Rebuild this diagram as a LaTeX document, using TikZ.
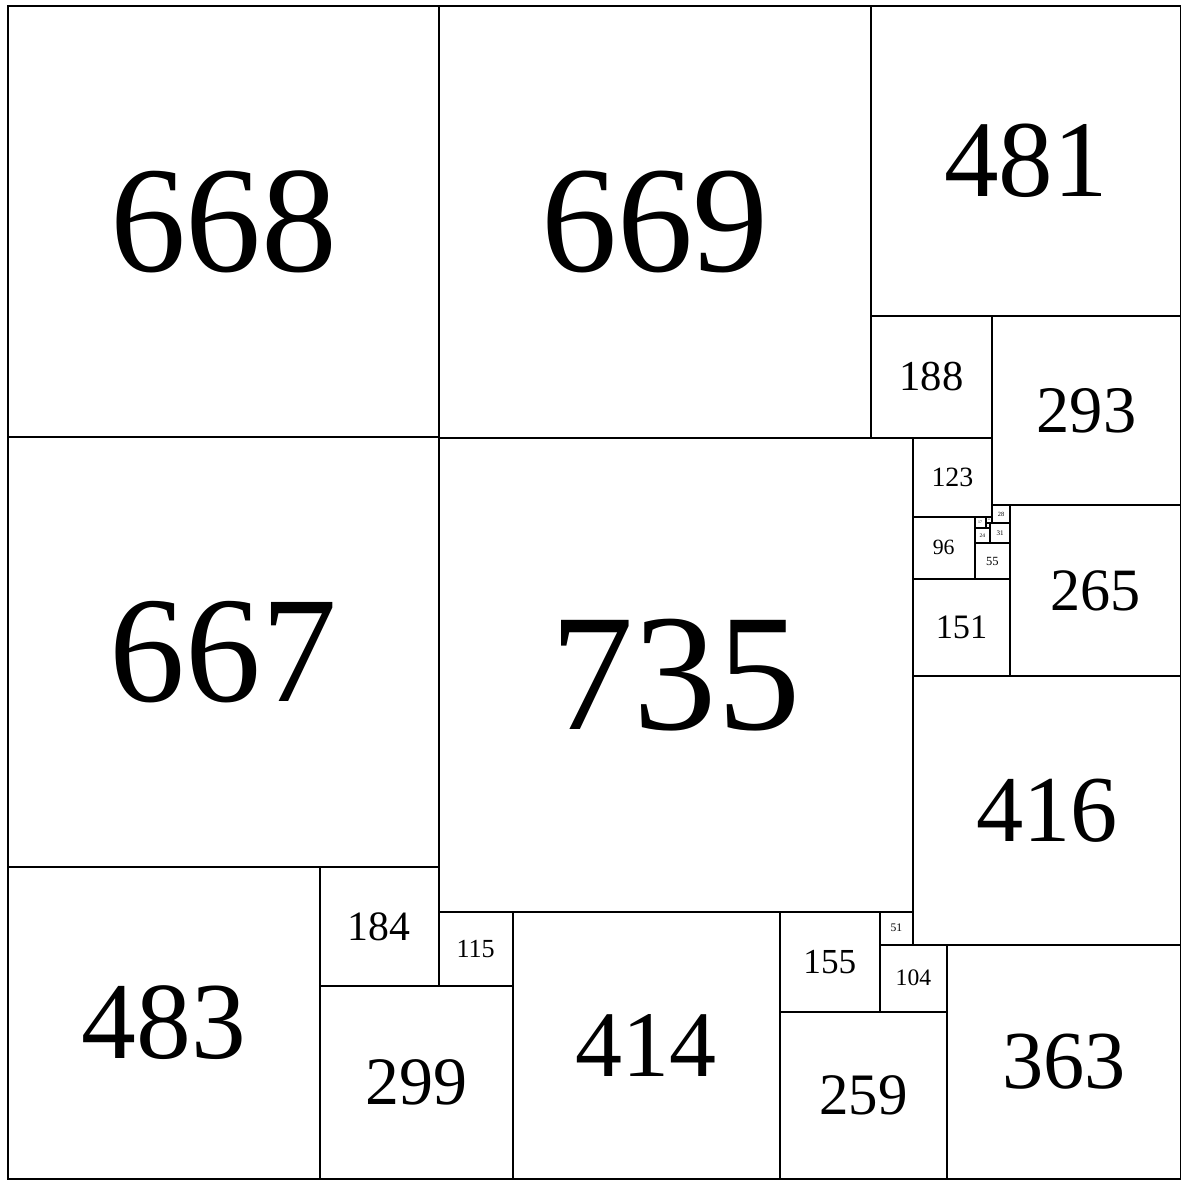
\documentclass[tikz,border=0pt]{standalone}
\usepackage{fontspec}
\setmainfont{Liberation Serif}
\usepackage{tikz}
\usetikzlibrary{positioning}

\tikzset{
  sq/.style={draw, line width=0.9pt, inner sep=0pt, outer sep=0pt, shape=rectangle}
}

\begin{document}
\begin{tikzpicture}[x=0.01cm, y=-0.01cm]
		\useasboundingbox (-12.9,-9.3) rectangle (1816.3,1819.9);
		
		% Squares: top left corner and side
		\foreach \x/\y/\s in {0/0/668, 668/0/669, 1337/0/481,
			1337/481/188, 1525/481/293,
			0/668/667, 667/669/735, 1402/669/123,
			1525/774/28, 1402/792/96, 1498/792/17, 1515/792/10, 1515/802/7,
			1498/809/24, 1522/802/31, 1498/833/55, 1402/888/151, 1553/774/265,
			1402/1039/416,
			0/1335/483, 483/1335/184, 667/1404/115, 483/1519/299, 782/1404/414,
			1196/1404/155, 1351/1404/51, 1351/1455/104, 1196/1559/259, 1455/1455/363} {
			\pgfmathsetmacro{\fs}{0.1*\s}
			\node[sq, minimum size=\s*0.01cm, font=\fontsize{\fs pt}{\fs pt}\selectfont]
				(sq\s) at ({\x+\s/2},{\y+\s/2}) {\s};
		}
	\end{tikzpicture}
\end{document}
